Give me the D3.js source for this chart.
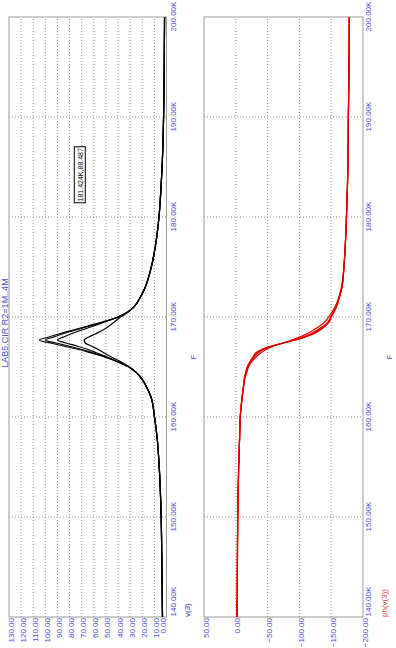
<!DOCTYPE html>
<html>
<head>
<meta charset="utf-8">
<script src="https://cdn.jsdelivr.net/npm/d3@7"></script>
<style>
  body { margin: 0; background: #fff; }
  text { font-family: "Liberation Sans", Arial, sans-serif; }
</style>
</head>
<body>
<div id="my_dataviz"></div>
<script>
// frequency points (kHz)
var freqK = [140,145,150,155,158,160,162,163,164,164.5,165,165.5,166,166.4,166.8,167.1,167.4,167.7,168,168.3,168.7,169.1,169.5,170,170.5,171,172,173,175,177,180,183,186,190,195,200];

// magnitude v(3), one series per R2 value
var magA = [3.3,3.8,4.4,6.0,7.8,9.9,12.8,16.5,21.5,25.5,31,40,51,62,74,85,96,105,97,89,77,65,53,40,32,27,21.5,17.5,12.5,9.3,6.2,4.5,3.3,2.4,1.9,1.6];
var magB = [3.3,3.8,4.4,6.0,7.8,9.9,12.8,16.5,21.5,25.5,31,40,50.5,60.5,71,81,91,100,93,86,75,63,52,40,32,27,21.5,17.5,12.5,9.3,6.2,4.5,3.3,2.4,1.9,1.6];
var magC = [3.3,3.8,4.4,6.0,7.8,9.9,12.8,16.5,21.5,25.5,31,39.5,49,57.5,66,74,83,90,85,79,70,60,51,40,32,27,21.5,17.5,12.5,9.3,6.2,4.5,3.3,2.4,1.9,1.6];
var magD = [3.3,3.8,4.4,6.0,7.8,9.9,12.8,16.5,21.5,25.5,30.5,37.5,45.5,51.5,57,62,67,68,64,59,52.5,47.5,43,38,31.5,27,21.5,17.5,12.5,9.3,6.2,4.5,3.3,2.4,1.9,1.6];

// phase ph(v(3)) in degrees
var phA = [-2,-2.5,-3,-4.5,-6,-7,-10,-12,-14,-16,-18,-22,-27,-31,-42,-56,-75,-94,-110,-122,-133,-141,-147,-150,-154.5,-158,-163,-167,-170,-172,-174,-175.5,-176.5,-177,-178,-178.5];
var phB = [-2,-2.5,-3,-4.5,-6,-7,-10,-12,-14,-16,-18,-22,-28,-33,-43,-57,-75,-93,-108,-120,-131,-140,-146,-150,-154.5,-158,-163,-167,-170,-172,-174,-175.5,-176.5,-177,-178,-178.5];
var phC = [-2,-2.5,-3,-4.5,-6,-7,-10,-12,-14,-16.5,-19,-23,-29,-35,-45,-58,-75,-91,-105,-117,-128,-138,-145,-149,-153.5,-157,-163,-167,-170,-172,-174,-175.5,-176.5,-177,-178,-178.5];
var phD = [-2,-2.5,-3,-4.5,-6,-7,-10,-12,-15,-17.5,-20,-25,-32,-39,-49,-60,-74,-88,-100,-111,-122,-132,-140,-146,-151.5,-156,-162,-166,-170,-172,-174,-175.5,-176.5,-177,-178,-178.5];

var freqTicks = [140,150,160,170,180,190,200];
var magTicks = [0,10,20,30,40,50,60,70,80,90,100,110,120,130];
var phTicks = [50,0,-50,-100,-150,-200];

var title = "LAB5.CIR R2=1M..4M";
var magName = "v(3)";
var phName = "ph(v(3))";
var xName = "F";
var cursorF = 181.424, cursorV = 88.487;

var blue = "#4a4ad0", red = "#e00000";

// the whole plot is drawn lying down, then turned a quarter turn
var svg = d3.select("#my_dataviz")
  .append("svg")
    .attr("width", 396)
    .attr("height", 648);
var g = svg.append("g")
    .attr("transform", "translate(0,648) rotate(-90)");

var x = d3.scaleLinear().domain([140, 200]).range([31, 631]);
var yMag = d3.scaleLinear().domain([0, 130]).range([166.5, 9]);
var yPh = d3.scaleLinear().domain([-200, 50]).range([363, 204]);

function fmtK(d) { return d3.format(".2f")(d) + "K"; }

function panel(y, ticks, series, color, name, nameColor, labelY) {
  var p = g.append("g");
  var y0 = y.range()[0], y1 = y.range()[1];

  // grid
  p.selectAll(".vg").data(freqTicks.slice(1, -1)).enter().append("line")
    .attr("x1", function(d) { return x(d); }).attr("x2", function(d) { return x(d); })
    .attr("y1", y1).attr("y2", y0)
    .attr("stroke", "#959595").attr("stroke-dasharray", "1,2");
  p.selectAll(".hg").data(ticks.slice(1, -1)).enter().append("line")
    .attr("x1", x.range()[0]).attr("x2", x.range()[1])
    .attr("y1", function(d) { return y(d); }).attr("y2", function(d) { return y(d); })
    .attr("stroke", "#959595").attr("stroke-dasharray", "1,2");

  // frame
  p.append("rect")
    .attr("x", x.range()[0]).attr("y", y1)
    .attr("width", x.range()[1] - x.range()[0]).attr("height", y0 - y1)
    .attr("fill", "none").attr("stroke", "#9a9a9a");

  // value axis
  var ya = p.append("g")
    .attr("transform", "translate(" + (x.range()[0] - 1) + ",0)")
    .call(d3.axisLeft(y).tickValues(ticks).tickSize(0).tickPadding(0).tickFormat(d3.format(".2f")));
  ya.select(".domain").remove();
  ya.selectAll("text").attr("fill", blue).style("font-size", "8px").attr("dy", "0.5em");

  // frequency axis
  var xa = p.append("g")
    .attr("transform", "translate(0," + y0 + ")")
    .call(d3.axisBottom(x).tickValues(freqTicks).tickSize(0).tickPadding(labelY).tickFormat(fmtK));
  xa.select(".domain").remove();
  xa.selectAll("text").attr("fill", blue).style("font-size", "8px")
    .attr("text-anchor", function(d) { return d === 140 ? "start" : "middle"; });
  xa.selectAll("text").filter(function(d) { return d === 140; }).attr("x", 0);

  // curves
  var line = d3.line()
    .x(function(d, i) { return x(freqK[i]); })
    .y(function(d) { return y(d); })
    .curve(d3.curveMonotoneX);
  series.forEach(function(s) {
    p.append("path").datum(s)
      .attr("d", line)
      .attr("fill", "none")
      .attr("stroke", color)
      .attr("stroke-width", 1.2);
  });

  // axis names
  p.append("text").attr("x", x(140)).attr("y", y0 + 23.5)
    .attr("fill", nameColor).style("font-size", "8px").text(name);
  p.append("text").attr("x", 291).attr("y", y0 + 29)
    .attr("text-anchor", "middle").attr("fill", blue).style("font-size", "8px").text(xName);
  return ya;
}

var magAxis = panel(yMag, magTicks, [magA, magB, magC, magD], "#000", magName, "#3a3a9a", 4);
magAxis.selectAll("text").filter(function(d) { return d === 0; }).attr("dy", "-0.15em");
panel(yPh, phTicks, [phA, phB, phC, phD], red, phName, "#e04848", 2);

// title
g.append("text").attr("x", 325).attr("y", 8)
  .attr("text-anchor", "middle").attr("fill", blue).style("font-size", "9px").text(title);

// cursor tag
var tag = g.append("g")
  .attr("transform", "translate(" + x(cursorF) + "," + (yMag(cursorV) + 15) + ")");
tag.append("rect").attr("width", 56).attr("height", 11)
  .attr("fill", "#fff").attr("stroke", "#000");
tag.append("text").attr("x", 28).attr("y", 8.5).attr("text-anchor", "middle")
  .style("font-size", "7px").attr("fill", "#000")
  .text(fmtK(cursorF).replace(".42K", ".424K") + "," + cursorV);
</script>
</body>
</html>
